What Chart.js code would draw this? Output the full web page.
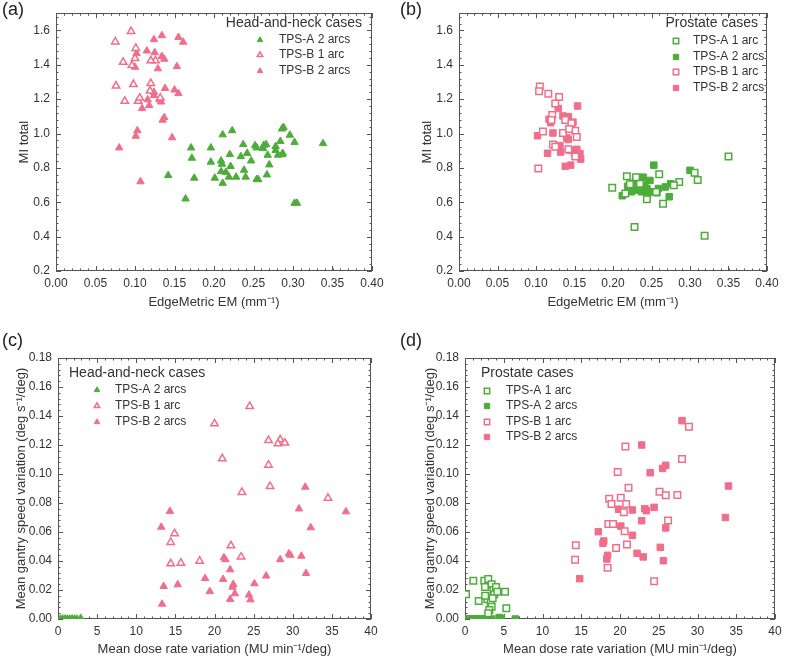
<!DOCTYPE html>
<html>
<head>
<meta charset="utf-8">
<script src="https://cdn.jsdelivr.net/npm/chart.js@4.4.0/dist/chart.umd.min.js"></script>
<style>
body { margin: 0; background: #fff; }
#wrap { position: relative; width: 790px; height: 663px; }
canvas { position: absolute; }
.tag { position: absolute; font: 18px "Liberation Sans", Arial, sans-serif; color: #222; }
</style>
</head>
<body>
<div id="wrap">
  <canvas id="chartA" width="395" height="330" style="left:0;top:0"></canvas>
  <canvas id="chartB" width="395" height="330" style="left:395px;top:0"></canvas>
  <canvas id="chartC" width="395" height="333" style="left:0;top:330px"></canvas>
  <canvas id="chartD" width="395" height="333" style="left:395px;top:330px"></canvas>
  <div class="tag" style="left:2px;top:-1px">(a)</div>
  <div class="tag" style="left:400px;top:-1px">(b)</div>
  <div class="tag" style="left:2px;top:330px">(c)</div>
  <div class="tag" style="left:400px;top:330px">(d)</div>
</div>
<script>
const GREEN = '#4cad3a'
const PINK = '#ef6f8b'
const FONT = '"Liberation Sans", Arial, sans-serif'

// tick labels
const emTicks = [0, 0.05, 0.1, 0.15, 0.2, 0.25, 0.3, 0.35, 0.4]
const miTicks = [0.2, 0.4, 0.6, 0.8, 1.0, 1.2, 1.4, 1.6]
const doseTicks = [0, 5, 10, 15, 20, 25, 30, 35, 40]
const gantryTicks = [0, 0.02, 0.04, 0.06, 0.08, 0.1, 0.12, 0.14, 0.16, 0.18]

// (a) head-and-neck, EdgeMetric vs MI total
const aTpsA2 = [[0.142,0.756],[0.164,0.620],[0.171,0.917],[0.172,0.857],[0.175,0.741],[0.196,0.917],[0.196,0.834],[0.201,0.741],[0.211,0.993],[0.223,1.017],[0.209,0.841],[0.210,0.822],[0.209,0.779],[0.215,0.775],[0.211,0.711],[0.220,0.878],[0.221,0.809],[0.219,0.747],[0.228,0.747],[0.234,0.866],[0.237,0.936],[0.238,0.787],[0.240,0.747],[0.242,0.885],[0.247,0.841],[0.252,0.930],[0.254,0.917],[0.254,0.733],[0.256,0.732],[0.263,0.932],[0.266,0.936],[0.262,0.913],[0.270,0.818],[0.268,0.874],[0.267,0.760],[0.278,0.925],[0.278,0.902],[0.281,0.875],[0.286,0.877],[0.287,0.885],[0.284,0.955],[0.286,1.027],[0.288,1.036],[0.296,0.991],[0.302,0.949],[0.338,0.942],[0.302,0.595],[0.305,0.595]]
const aTpsB1 = [[0.075,1.534],[0.095,1.594],[0.101,1.496],[0.100,1.437],[0.085,1.415],[0.096,1.396],[0.076,1.277],[0.098,1.286],[0.087,1.188],[0.104,1.188],[0.106,1.207],[0.120,1.292],[0.119,1.248],[0.126,1.424],[0.120,1.424],[0.132,1.207]]
const aTpsB2 = [[0.124,1.547],[0.134,1.570],[0.155,1.560],[0.161,1.532],[0.102,1.466],[0.115,1.481],[0.125,1.471],[0.134,1.449],[0.137,1.433],[0.129,1.377],[0.153,1.390],[0.100,1.386],[0.124,1.241],[0.138,1.263],[0.124,1.222],[0.116,1.197],[0.118,1.163],[0.131,1.197],[0.133,1.184],[0.109,1.146],[0.150,1.254],[0.155,1.233],[0.137,1.093],[0.135,1.078],[0.103,1.017],[0.101,0.985],[0.147,0.976],[0.080,0.917],[0.107,0.720]]

// (b) prostate, EdgeMetric vs MI total
const bTpsA1 = [[0.199,0.684],[0.218,0.752],[0.260,0.763],[0.286,0.718],[0.306,0.771],[0.310,0.729],[0.244,0.617],[0.265,0.591],[0.228,0.456],[0.319,0.405],[0.350,0.866],[0.222,0.705],[0.235,0.708],[0.279,0.699],[0.216,0.651],[0.256,0.660],[0.230,0.745]]
const bTpsA2 = [[0.253,0.816],[0.300,0.786],[0.212,0.638],[0.219,0.693],[0.226,0.708],[0.233,0.741],[0.239,0.746],[0.230,0.671],[0.237,0.661],[0.244,0.680],[0.248,0.727],[0.252,0.661],[0.259,0.680],[0.268,0.689],[0.275,0.708],[0.273,0.632],[0.241,0.700],[0.224,0.661],[0.257,0.655],[0.233,0.690],[0.229,0.720],[0.245,0.645]]
const bTpsB1 = [[0.105,1.273],[0.104,1.246],[0.116,1.231],[0.130,1.212],[0.125,1.174],[0.121,1.107],[0.109,1.012],[0.103,0.797],[0.122,0.936],[0.125,0.923],[0.135,1.003],[0.138,1.079],[0.146,1.060],[0.151,1.016],[0.153,0.980],[0.151,0.866],[0.120,1.079],[0.142,0.908],[0.143,1.026]]
const bTpsB2 = [[0.154,1.160],[0.102,0.987],[0.115,0.885],[0.117,1.083],[0.119,1.063],[0.122,1.003],[0.129,1.145],[0.135,1.102],[0.139,1.079],[0.142,1.098],[0.146,1.045],[0.148,1.066],[0.140,0.974],[0.142,0.965],[0.131,0.930],[0.132,0.892],[0.144,0.902],[0.150,0.889],[0.157,0.883],[0.158,0.851],[0.138,0.809],[0.145,0.816],[0.153,0.908]]

// (c) head-and-neck, dose rate vs gantry speed variation
const cTpsA2 = [[0.3,0],[0.6,0],[0.9,0],[1.2,0],[1.5,0],[1.8,0],[2.1,0],[2.4,0],[2.9,0.0005]]
const cTpsB1 = [[24.5,0.1467],[20.0,0.1347],[26.9,0.1232],[28.4,0.1237],[28.1,0.1209],[29.0,0.1214],[21.0,0.1106],[26.9,0.1062],[27.1,0.0915],[23.5,0.0874],[34.5,0.0834],[14.9,0.0589],[14.4,0.0529],[22.1,0.0506],[23.4,0.0428],[18.1,0.0400],[15.7,0.0386],[14.4,0.0382]]
const cTpsB2 = [[14.3,0.0743],[13.2,0.0634],[13.3,0.0103],[13.5,0.0225],[15.3,0.0237],[18.8,0.028],[19.4,0.019],[21.1,0.0274],[21.2,0.0423],[21.4,0.041],[22.0,0.034],[22.0,0.0136],[22.4,0.0239],[22.3,0.022],[22.6,0.0175],[24.4,0.0166],[24.6,0.0133],[25.1,0.0244],[26.6,0.0297],[28.4,0.041],[29.5,0.045],[29.7,0.044],[31.1,0.0434],[31.7,0.0315],[30.8,0.076],[31.6,0.091],[32.3,0.063],[36.8,0.074]]

// (d) prostate, dose rate vs gantry speed variation
const dTpsA1 = [[1.07,0.0264],[0.13,0.017],[2.49,0.0264],[3.0,0.0276],[2.58,0.022],[3.44,0.0239],[3.66,0.020],[4.0,0.022],[3.78,0.017],[4.17,0.0188],[5.16,0.0188],[1.77,0.0124],[2.88,0.0136],[3.32,0.0115],[3.44,0.0085],[3.14,0.0062],[5.33,0.0074],[3.57,0.0143],[3.0,0.004],[2.6,0.016]]
const dTpsA2 = [[0.2,0],[0.6,0],[1.0,0],[1.4,0],[1.8,0],[2.2,0],[2.6,0],[3.0,0],[3.4,0],[4.4,0.001],[4.7,0.0005],[6.5,0]]
const dTpsB1 = [[28.9,0.1326],[20.7,0.1189],[28.0,0.1103],[19.7,0.1014],[21.1,0.0906],[25.1,0.0878],[25.9,0.0853],[27.4,0.0855],[18.6,0.083],[20.1,0.0837],[18.9,0.0793],[20.8,0.0793],[20.5,0.0736],[26.2,0.068],[18.5,0.0655],[19.1,0.0655],[20.6,0.0605],[14.3,0.0508],[19.5,0.049],[20.9,0.0513],[14.2,0.0409],[18.4,0.0354],[24.4,0.026]]
const dTpsB2 = [[28.0,0.1368],[22.8,0.120],[23.9,0.1009],[25.5,0.1039],[25.9,0.106],[19.8,0.0757],[21.6,0.0752],[23.2,0.0761],[23.4,0.0747],[24.4,0.077],[22.8,0.0678],[20.1,0.0641],[25.9,0.0628],[17.2,0.0602],[21.6,0.0577],[17.9,0.0538],[17.8,0.0522],[25.2,0.0494],[18.4,0.0439],[18.3,0.0414],[22.2,0.0453],[23.0,0.0428],[25.6,0.0402],[14.8,0.0278],[34.0,0.0917],[33.6,0.070]]

const toPoints = arr => arr.map(p => ({ x: p[0], y: p[1] }))

function series(label, arr, shape, color, hollow) {
    const tri = shape === 'triangle'
    return {
        label: label,
        data: toPoints(arr),
        pointStyle: shape,
        pointRadius: tri ? 4.3 : 4.6,
        pointHoverRadius: tri ? 4.3 : 4.6,
        backgroundColor: hollow ? '#fff' : color,
        borderColor: color,
        pointBorderWidth: hollow ? 1.5 : 1,
        borderWidth: hollow ? 1.5 : 1,
        showLine: false,
    }
}

// box with inward ticks on all four sides
const framePlugin = {
    id: 'frame',
    beforeDatasetsDraw(chart) {
        const { ctx, chartArea: a } = chart
        const xs = chart.scales.x
        const ys = chart.scales.y
        ctx.save()
        ctx.strokeStyle = '#555'
        ctx.lineWidth = 1
        ctx.strokeRect(Math.round(a.left) + 0.5, Math.round(a.top) + 0.5, Math.round(a.width) - 1, Math.round(a.height) - 1)
        const tick = (scale, v, len) => {
            const p = Math.round(scale.getPixelForValue(v)) + 0.5
            ctx.beginPath()
            if (scale.isHorizontal()) {
                ctx.moveTo(p, a.bottom); ctx.lineTo(p, a.bottom - len)
                ctx.moveTo(p, a.top); ctx.lineTo(p, a.top + len)
            } else {
                ctx.moveTo(a.left, p); ctx.lineTo(a.left + len, p)
                ctx.moveTo(a.right, p); ctx.lineTo(a.right - len, p)
            }
            ctx.stroke()
        }
        ;[xs, ys].forEach(scale => {
            const t = scale.ticks.map(k => k.value)
            const step = t[1] - t[0]
            t.forEach(v => tick(scale, v, 5))
            for (let v = t[0] - step; v <= scale.max + 1e-9; v += step / 5) {
                if (v >= scale.min - 1e-9) tick(scale, v, 2.5)
            }
        })
        ctx.restore()
    },
}

// legend drawn inside the plot box
const boxLegend = {
    id: 'boxLegend',
    afterDraw(chart, args, o) {
        const ctx = chart.ctx
        ctx.save()
        ctx.fillStyle = '#333'
        ctx.textBaseline = 'middle'
        ctx.font = '14px ' + FONT
        ctx.textAlign = o.titleAlign
        ctx.fillText(o.title, o.titleX, o.titleY)
        ctx.font = '12px ' + FONT
        ctx.textAlign = 'left'
        chart.data.datasets.forEach((ds, i) => {
            const y = o.rowY[i]
            ctx.fillStyle = ds.backgroundColor
            ctx.strokeStyle = ds.borderColor
            ctx.lineWidth = ds.pointBorderWidth
            Chart.helpers.drawPoint(ctx, {
                pointStyle: ds.pointStyle,
                radius: ds.pointStyle === 'triangle' ? 3.2 : 3.8,
                rotation: 0,
                borderWidth: ds.pointBorderWidth,
            }, o.markerX, y)
            ctx.fillStyle = '#333'
            ctx.fillText(ds.label, o.textX, y)
        })
        ctx.restore()
    },
}

function makeChart(id, datasets, p) {
    const tickFont = { family: FONT, size: 12 }
    const titleFont = { family: FONT, size: 13 }
    return new Chart(document.getElementById(id), {
        type: 'scatter',
        data: { datasets: datasets },
        options: {
            responsive: false,
            animation: false,
            events: [],
            layout: { padding: { left: 0, right: p.padRight, top: p.padTop, bottom: 0 } },
            plugins: {
                legend: { display: false },
                tooltip: { enabled: false },
                boxLegend: p.legend,
            },
            scales: {
                x: {
                    type: 'linear',
                    min: p.xTicks[0],
                    max: p.xTicks[p.xTicks.length - 1],
                    afterBuildTicks: s => { s.ticks = p.xTicks.map(v => ({ value: v })) },
                    afterFit: s => { s.height = p.xHeight },
                    grid: { display: false, drawTicks: false },
                    border: { display: false },
                    ticks: { color: '#333', font: tickFont, padding: 5, maxRotation: 0, callback: p.xFmt },
                    title: { display: true, text: p.xTitle, color: '#333', font: titleFont, padding: { top: 0, bottom: p.xTitlePad } },
                },
                y: {
                    type: 'linear',
                    min: p.yMin,
                    max: p.yMax,
                    afterBuildTicks: s => { s.ticks = p.yTicks.map(v => ({ value: v })) },
                    afterFit: s => { s.width = p.yWidth },
                    grid: { display: false, drawTicks: false },
                    border: { display: false },
                    ticks: { color: '#333', font: tickFont, padding: 6, callback: p.yFmt },
                    title: { display: true, text: p.yTitle, color: '#333', font: titleFont, padding: { top: p.yTitlePad, bottom: 0 } },
                },
            },
        },
        plugins: [framePlugin, boxLegend],
    })
}

const emTitle = 'EdgeMetric EM (mm\u207B\u00B9)'
const doseTitle = 'Mean dose rate variation (MU min\u207B\u00B9/deg)'
const gantryTitle = 'Mean gantry speed variation (deg s\u207B\u00B9/deg)'

makeChart('chartA', [
    series('TPS-A 2 arcs', aTpsA2, 'triangle', GREEN, false),
    series('TPS-B 1 arc', aTpsB1, 'triangle', PINK, true),
    series('TPS-B 2 arcs', aTpsB2, 'triangle', PINK, false),
], {
    padRight: 23, padTop: 7, yWidth: 56, xHeight: 59,
    xTicks: emTicks, yTicks: miTicks, yMin: 0.2, yMax: 1.7,
    xFmt: v => v.toFixed(2), yFmt: v => v.toFixed(1),
    xTitle: emTitle, yTitle: 'MI total', xTitlePad: 20, yTitlePad: 17,
    legend: { title: 'Head-and-neck cases', titleAlign: 'right', titleX: 362, titleY: 23, markerX: 260, textX: 279, rowY: [40, 55, 71] },
})

makeChart('chartB', [
    series('TPS-A 1 arc', bTpsA1, 'rect', GREEN, true),
    series('TPS-A 2 arcs', bTpsA2, 'rect', GREEN, false),
    series('TPS-B 1 arc', bTpsB1, 'rect', PINK, true),
    series('TPS-B 2 arcs', bTpsB2, 'rect', PINK, false),
], {
    padRight: 23, padTop: 7, yWidth: 64, xHeight: 59,
    xTicks: emTicks, yTicks: miTicks, yMin: 0.2, yMax: 1.7,
    xFmt: v => v.toFixed(2), yFmt: v => v.toFixed(1),
    xTitle: emTitle, yTitle: 'MI total', xTitlePad: 20, yTitlePad: 25,
    legend: { title: 'Prostate cases', titleAlign: 'right', titleX: 363, titleY: 23, markerX: 281, textX: 298, rowY: [41, 57, 72, 88] },
})

makeChart('chartC', [
    series('TPS-A 2 arcs', cTpsA2, 'triangle', GREEN, false),
    series('TPS-B 1 arc', cTpsB1, 'triangle', PINK, true),
    series('TPS-B 2 arcs', cTpsB2, 'triangle', PINK, false),
], {
    padRight: 24, padTop: 28, yWidth: 58, xHeight: 44,
    xTicks: doseTicks, yTicks: gantryTicks, yMin: 0, yMax: 0.18,
    xFmt: v => String(v), yFmt: v => v.toFixed(2),
    xTitle: doseTitle, yTitle: gantryTitle, xTitlePad: 6, yTitlePad: 14,
    legend: { title: 'Head-and-neck cases', titleAlign: 'left', titleX: 69, titleY: 43, markerX: 97, textX: 115, rowY: [60, 76, 92] },
})

makeChart('chartD', [
    series('TPS-A 1 arc', dTpsA1, 'rect', GREEN, true),
    series('TPS-A 2 arcs', dTpsA2, 'rect', GREEN, false),
    series('TPS-B 1 arc', dTpsB1, 'rect', PINK, true),
    series('TPS-B 2 arcs', dTpsB2, 'rect', PINK, false),
], {
    padRight: 15, padTop: 28, yWidth: 70, xHeight: 44,
    xTicks: doseTicks, yTicks: gantryTicks, yMin: 0, yMax: 0.18,
    xFmt: v => String(v), yFmt: v => v.toFixed(2),
    xTitle: doseTitle, yTitle: gantryTitle, xTitlePad: 6, yTitlePad: 28,
    legend: { title: 'Prostate cases', titleAlign: 'left', titleX: 86, titleY: 43, markerX: 92, textX: 111, rowY: [61, 76, 92, 107] },
})
</script>
</body>
</html>
